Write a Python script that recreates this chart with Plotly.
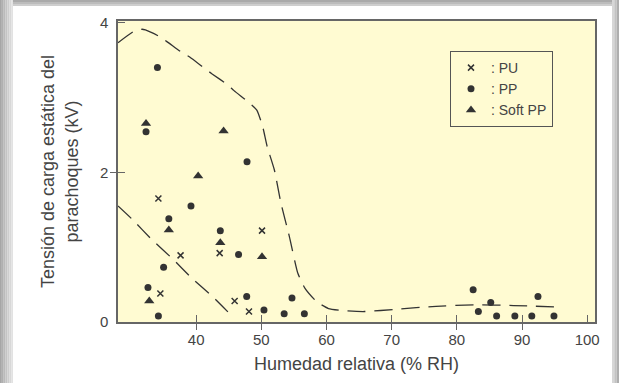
import plotly.graph_objects as go

# ---------------- data ----------------
pu_rh = [34.2, 50.1, 43.6, 37.6, 34.5, 45.9, 48.1]
pu_kv = [1.65, 1.22, 0.92, 0.89, 0.38, 0.28, 0.14]

pp_rh = [34.05, 32.3, 47.8, 39.2, 35.8, 43.7, 46.5, 35.0, 32.6, 34.2, 47.75, 54.7,
         50.4, 53.5, 56.6, 82.5, 83.3, 85.2, 86.1, 88.9, 91.5, 92.45, 94.9]
pp_kv = [3.40, 2.54, 2.14, 1.55, 1.38, 1.22, 0.90, 0.73, 0.46, 0.08, 0.34, 0.32,
         0.16, 0.11, 0.11, 0.43, 0.14, 0.26, 0.08, 0.08, 0.08, 0.34, 0.08]

soft_rh = [32.3, 44.2, 40.3, 35.8, 43.7, 50.1, 32.8]
soft_kv = [2.65, 2.55, 1.95, 1.23, 1.06, 0.87, 0.28]

upper_rh = [28.0, 30.4, 31.7, 32.2, 34.2, 35.5, 37.8, 39.0, 41.4, 42.5, 44.8, 45.8, 48.1,
            49.3, 50.2, 50.9, 52.0, 53.0, 54.3, 55.6, 56.7, 58.5, 60.3, 62.8, 65.8,
            70.7, 76.8, 82.85, 88.7, 95.6]
upper_kv = [3.73, 3.88, 3.91, 3.90, 3.82, 3.745, 3.60, 3.54, 3.38, 3.31, 3.17, 3.09, 2.93,
            2.83, 2.61, 2.34, 2.03, 1.59, 1.14, 0.65, 0.45, 0.27, 0.18, 0.15, 0.14,
            0.17, 0.21, 0.23, 0.22, 0.20]

lower_rh = [28.0, 30.2, 33.2, 36.3, 39.4, 42.5, 45.6]
lower_kv = [1.55, 1.37, 1.10, 0.85, 0.58, 0.34, 0.07]

x_ticks = [40, 50, 60, 70, 80, 90, 100]
x_outer_ticks = [40, 50, 60, 70, 80, 90]
y_ticks = [0, 2, 4]
y_outer_ticks = [2]

# ---------------- style ----------------
W, H = 619, 383
ML, MR, MT, MB = 118, 24, 21, 61
PW, PH = W - ML - MR, H - MT - MB
INK = "#333333"
TXT = "#444444"
FRAME = "#666666"
YELLOW = "#fffbd2"
FONT = "Liberation Sans, Arial, sans-serif"


def px_x(p):
    return (p - ML) / PW


def px_y(p):
    return (H - MB - p) / PH


fig = go.Figure()

dash = "18px,9px"
fig.add_trace(go.Scatter(x=upper_rh, y=upper_kv, mode="lines", showlegend=False,
                         line=dict(color=INK, width=1.3, dash=dash, shape="spline", smoothing=0.5),
                         hoverinfo="skip"))
fig.add_trace(go.Scatter(x=lower_rh, y=lower_kv, mode="lines", showlegend=False,
                         line=dict(color=INK, width=1.3, dash=dash, shape="spline", smoothing=0.5),
                         hoverinfo="skip"))

fig.add_trace(go.Scatter(x=pu_rh, y=pu_kv, mode="markers", name=": PU",
                         marker=dict(symbol="x-thin", size=6, line=dict(color=INK, width=1.5), color=INK)))
fig.add_trace(go.Scatter(x=pp_rh, y=pp_kv, mode="markers", name=": PP",
                         marker=dict(symbol="circle", size=7, color=INK)))
fig.add_trace(go.Scatter(x=soft_rh, y=soft_kv, mode="markers", name=": Soft PP",
                         marker=dict(symbol="triangle-up", size=9, color=INK)))

# empty trace for overlay axes (outer halves of the crossing ticks)
fig.add_trace(go.Scatter(x=[None], y=[None], xaxis="x2", yaxis="y2", showlegend=False,
                         hoverinfo="skip"))

xr = [28, 101.2]
yr = [0, 4.02]

fig.update_layout(
    width=W, height=H,
    margin=dict(l=ML, r=MR, t=MT, b=MB),
    paper_bgcolor="white",
    plot_bgcolor=YELLOW,
    font=dict(family=FONT, color=TXT, size=15),
    xaxis=dict(range=xr, tickvals=x_ticks, ticks="inside", ticklen=7, tickcolor=FRAME,
               tickwidth=1.2,
               showline=True, linecolor=FRAME, linewidth=1.5, mirror=True,
               showgrid=False, zeroline=False, tickfont=dict(size=15, color=TXT),
               ticklabelstandoff=3,
               title=dict(text="Humedad relativa (% RH)", font=dict(size=18, color=TXT),
                          standoff=11)),
    yaxis=dict(range=yr, tickvals=y_ticks, ticks="inside", ticklen=7, tickcolor=FRAME,
               tickwidth=1.2,
               showline=True, linecolor=FRAME, linewidth=1.5, mirror=True,
               showgrid=False, zeroline=False, tickfont=dict(size=15, color=TXT),
               ticklabelstandoff=5,
               title=dict(text="Tensión de carga estática del<br>parachoques (kV)",
                          font=dict(size=18, color=TXT), standoff=17)),
    xaxis2=dict(range=xr, overlaying="x", anchor="y", side="bottom",
                tickvals=x_outer_ticks, ticks="outside", ticklen=7, tickcolor=FRAME,
                tickwidth=1.2,
                showticklabels=False, showline=False, showgrid=False, zeroline=False),
    yaxis2=dict(range=yr, overlaying="y", anchor="x", side="left",
                tickvals=y_outer_ticks, ticks="outside", ticklen=7, tickcolor=FRAME,
                tickwidth=1.2,
                showticklabels=False, showline=False, showgrid=False, zeroline=False),
    legend=dict(x=px_x(450), y=px_y(51), xanchor="left", yanchor="top",
                bgcolor=YELLOW, bordercolor="#555555", borderwidth=1,
                font=dict(size=14, color=TXT), tracegroupgap=0),
    showlegend=True,
)

# grey shadow frame around the white panel
shapes = []
left_cols = ["#a6a6a6", "#b0b0b0", "#bababa", "#c4c4c4", "#cecece", "#d8d8d8", "#e2e2e2"]
for i, c in enumerate(left_cols):
    shapes.append(dict(type="rect", xref="paper", yref="paper", layer="below",
                       x0=px_x(i * 13 / len(left_cols)), x1=px_x((i + 1) * 13 / len(left_cols)),
                       y0=px_y(H), y1=px_y(0), fillcolor=c, line=dict(width=0)))
top_cols = ["#aaaaaa", "#bcbcbc", "#cecece"]
for i, c in enumerate(top_cols):
    shapes.append(dict(type="rect", xref="paper", yref="paper", layer="below",
                       x0=px_x(13), x1=px_x(612),
                       y0=px_y((i + 1) * 2), y1=px_y(i * 2), fillcolor=c, line=dict(width=0)))
right_cols = ["#d6d6d6", "#c2c2c2", "#aeaeae"]
for i, c in enumerate(right_cols):
    shapes.append(dict(type="rect", xref="paper", yref="paper", layer="below",
                       x0=px_x(612 + i * 7 / 3), x1=px_x(612 + (i + 1) * 7 / 3),
                       y0=px_y(H), y1=px_y(0), fillcolor=c, line=dict(width=0)))
fig.update_layout(shapes=shapes)

fig.write_html("out.html", config={"displayModeBar": False},
               post_script="document.body.style.margin='0px';")
